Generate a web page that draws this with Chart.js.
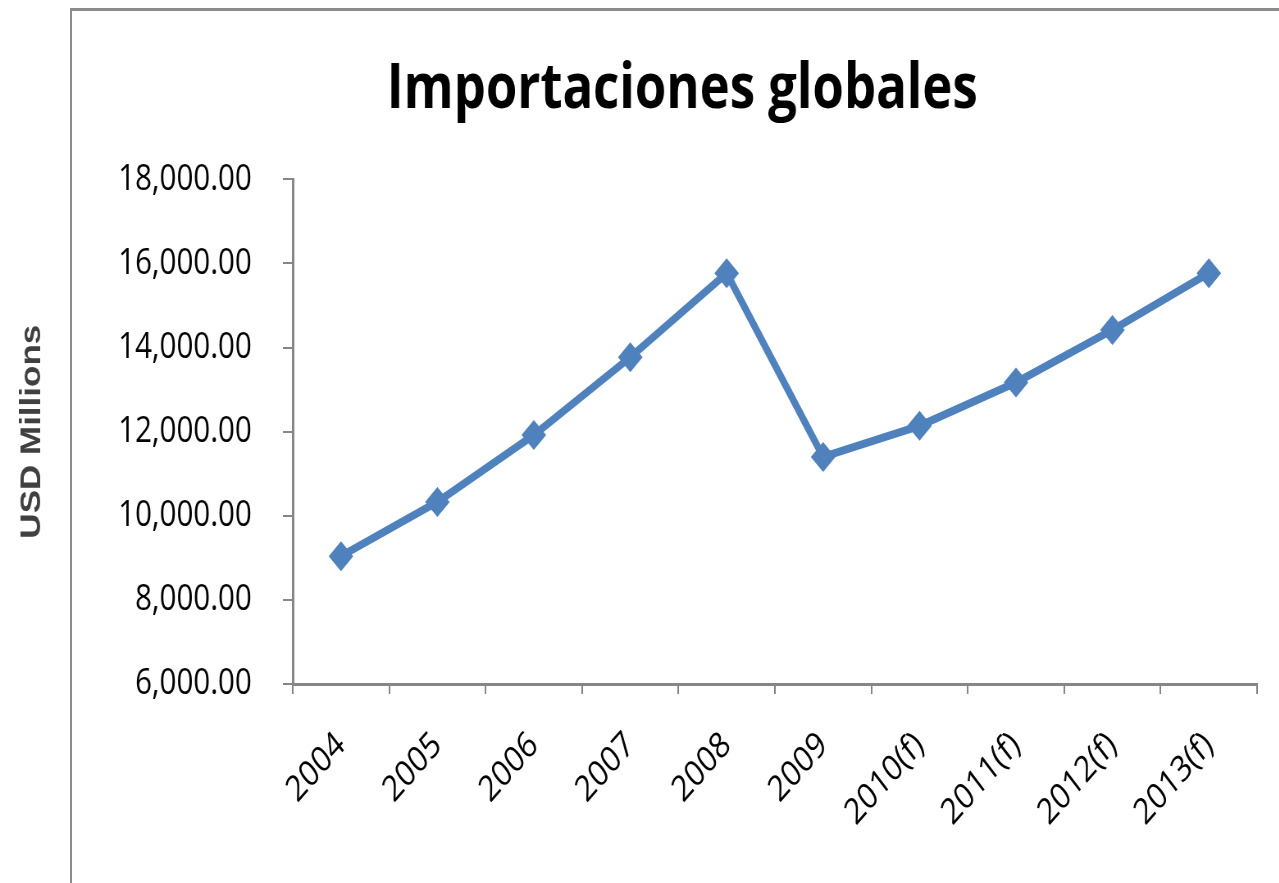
<!DOCTYPE html>
<html>
<head>
<meta charset="utf-8">
<title>Importaciones globales</title>
<script src="https://cdn.jsdelivr.net/npm/chart.js@4/dist/chart.umd.min.js"></script>
<style>
  html, body { margin: 0; padding: 0; background: #fff; }
  #wrap { position: relative; width: 1279px; height: 883px; overflow: hidden; }
  /* outer chart frame, only left and top edges are visible */
  #frame { position: absolute; left: 70px; top: 8px; width: 1400px; height: 1000px;
           border-left: 2px solid #8c8c8c; border-top: 3px solid #8c8c8c; }
  /* the original picture is narrow, so the canvas is drawn wide and squeezed */
  #chartBox { position: absolute; left: 0; top: 0; width: 1670px; height: 883px;
              transform: scaleX(0.82); transform-origin: 0 0; }
</style>
</head>
<body>
<div id="wrap">
  <div id="frame"></div>
  <div id="chartBox">
    <canvas id="importChart" width="1670" height="883"></canvas>
  </div>
</div>
<script>
// data
const years = ['2004', '2005', '2006', '2007', '2008', '2009', '2010(f)', '2011(f)', '2012(f)', '2013(f)'];
const importValues = [9040, 10330, 11920, 13770, 15770, 11400, 12140, 13170, 14420, 15770];
const yMin = 6000;
const yMax = 18000;
const yStep = 2000;

const axisGray = '#868686';
const lineBlue = '#4F81BD';
const textFont = '"Open Sans", "DejaVu Sans", sans-serif';

const ctx = document.getElementById('importChart').getContext('2d');
const importChart = new Chart(ctx, {
    type: 'line',
    data: {
        labels: years,
        datasets: [{
            label: 'Importaciones',
            data: importValues,
            borderColor: lineBlue,
            backgroundColor: lineBlue,
            borderWidth: 8,
            tension: 0,
            pointStyle: 'rectRot',
            pointRadius: 15,
            pointBorderWidth: 0,
            pointBackgroundColor: lineBlue
        }]
    },
    options: {
        responsive: false,
        animation: false,
        devicePixelRatio: 1,
        layout: { padding: { left: 0, right: 6, top: 0, bottom: 0 } },
        plugins: {
            legend: { display: false },
            tooltip: { enabled: false },
            title: {
                display: true,
                text: 'Importaciones globales',
                color: '#000',
                font: { family: textFont, size: 62, weight: 'bold' },
                padding: { top: 53, bottom: 52 }
            }
        },
        scales: {
            x: {
                type: 'category',
                offset: true,
                grid: {
                    offset: true,
                    drawOnChartArea: false,
                    tickLength: 10,
                    color: axisGray,
                    lineWidth: 2
                },
                border: { color: axisGray, width: 3 },
                ticks: {
                    color: '#000',
                    font: { family: textFont, size: 36 },
                    minRotation: 43,
                    maxRotation: 43,
                    padding: 30
                },
                afterFit: scale => { scale.height = 199; }
            },
            y: {
                min: yMin,
                max: yMax,
                grid: {
                    drawOnChartArea: false,
                    tickLength: 12,
                    color: axisGray,
                    lineWidth: 2
                },
                border: { color: axisGray, width: 3 },
                ticks: {
                    stepSize: yStep,
                    color: '#000',
                    font: { family: textFont, size: 36 },
                    padding: 38,
                    callback: v => v.toLocaleString('en-US', { minimumFractionDigits: 2, maximumFractionDigits: 2 })
                },
                title: {
                    display: true,
                    text: 'USD Millions',
                    color: '#404040',
                    font: { family: '"Liberation Sans", Arial, sans-serif', size: 35, weight: 'bold' },
                    padding: { top: 18, bottom: 0 }
                },
                afterFit: scale => { scale.width = 357; }
            },
            // empty space on the right so the title sits where it does in the original
            spacer: {
                position: 'right',
                grid: { display: false },
                border: { display: false },
                ticks: { display: false },
                afterFit: scale => { scale.width = 131; }
            }
        }
    }
});
</script>
</body>
</html>
